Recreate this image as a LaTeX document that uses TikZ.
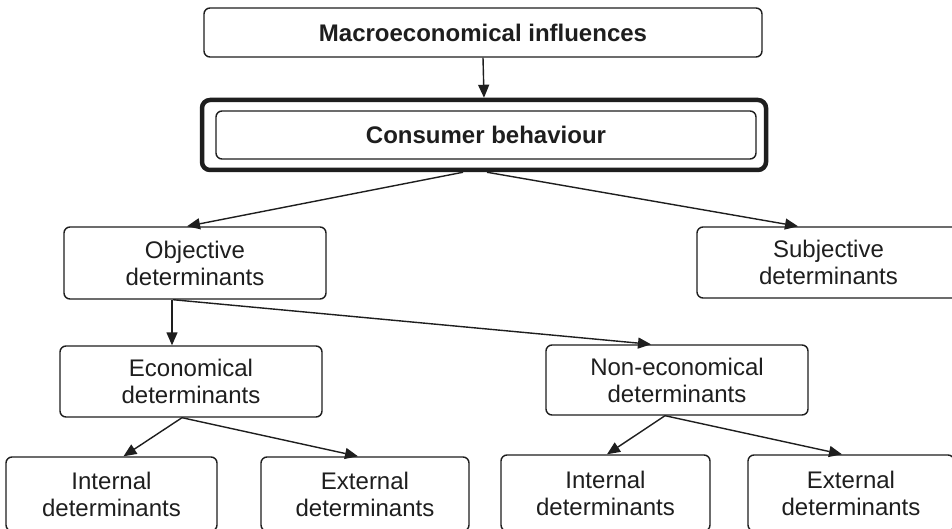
\documentclass[tikz,border=0pt]{standalone}
\usepackage{fontspec}
\setmainfont{Liberation Sans}
\usetikzlibrary{arrows.meta}
\definecolor{ink}{HTML}{1E1E1E}
\begin{document}
\begin{tikzpicture}[x=1pt,y=-1pt,
  box/.style={draw=ink,text=ink,line width=1.4pt,rounded corners=6pt,
    inner sep=0pt,align=center,minimum height=#1,
    font=\fontsize{24}{27}\selectfont},
  box/.default=71pt,
  arr/.style={draw=ink,line width=1.4pt,-{Triangle[length=13pt,width=11pt]}}]
  \clip (0,0) rectangle (952,529);
  \fill[white] (0,0) rectangle (952,529);

  % top level
  \node[box=49pt,minimum width=558pt,font=\fontsize{24}{27}\selectfont\bfseries]
    (macro) at (483,32.5) {Macroeconomical influences};
  \node[draw=ink,line width=4.5pt,rounded corners=8pt,minimum width=564pt,
    minimum height=70pt,inner sep=0pt] (cb) at (484,135) {};
  \node[box=48pt,minimum width=540pt,font=\fontsize{24}{27}\selectfont\bfseries]
    (cbin) at (486,135) {Consumer behaviour};

  % second level
  \node[box=72pt,minimum width=262pt] (obj) at (195,263) {Objective\\determinants};
  \node[box=71pt,minimum width=263pt] (subj) at (828.5,262.5) {Subjective\\determinants};

  % third level
  \node[box=71pt,minimum width=262pt] (econ) at (191,381.5) {Economical\\determinants};
  \node[box=70pt,minimum width=262pt] (noneco) at (677,380) {Non-economical\\determinants};

  % bottom level
  \node[box=74pt,minimum width=211pt] (int1) at (111.5,494) {Internal\\determinants};
  \node[box=74pt,minimum width=208pt] (ext1) at (365,494) {External\\determinants};
  \node[box=76pt,minimum width=209pt] (int2) at (605.5,493) {Internal\\determinants};
  \node[box=76pt,minimum width=206pt] (ext2) at (851,493) {External\\determinants};

  % connectors
  \draw[arr] (macro.south) -- (cb.north);
  \draw[arr] ([xshift=-21pt]cb.south) -- ([xshift=-8pt]obj.north);
  \draw[arr] ([xshift=3pt]cb.south) -- ([xshift=-30.5pt]subj.north);
  \draw[arr] ([xshift=-23pt]obj.south) -- ([xshift=-19pt]econ.north);
  \draw[arr] ([xshift=-22pt]obj.south) -- ([xshift=-26pt]noneco.north);
  \draw[arr] ([xshift=-9pt]econ.south) -- ([xshift=12pt]int1.north);
  \draw[arr] ([xshift=-9pt]econ.south) -- ([xshift=-7pt]ext1.north);
  \draw[arr] ([xshift=-12pt]noneco.south) -- ([xshift=1.5pt]int2.north);
  \draw[arr] ([xshift=-12pt]noneco.south) -- ([xshift=-9pt]ext2.north);
\end{tikzpicture}
\end{document}
